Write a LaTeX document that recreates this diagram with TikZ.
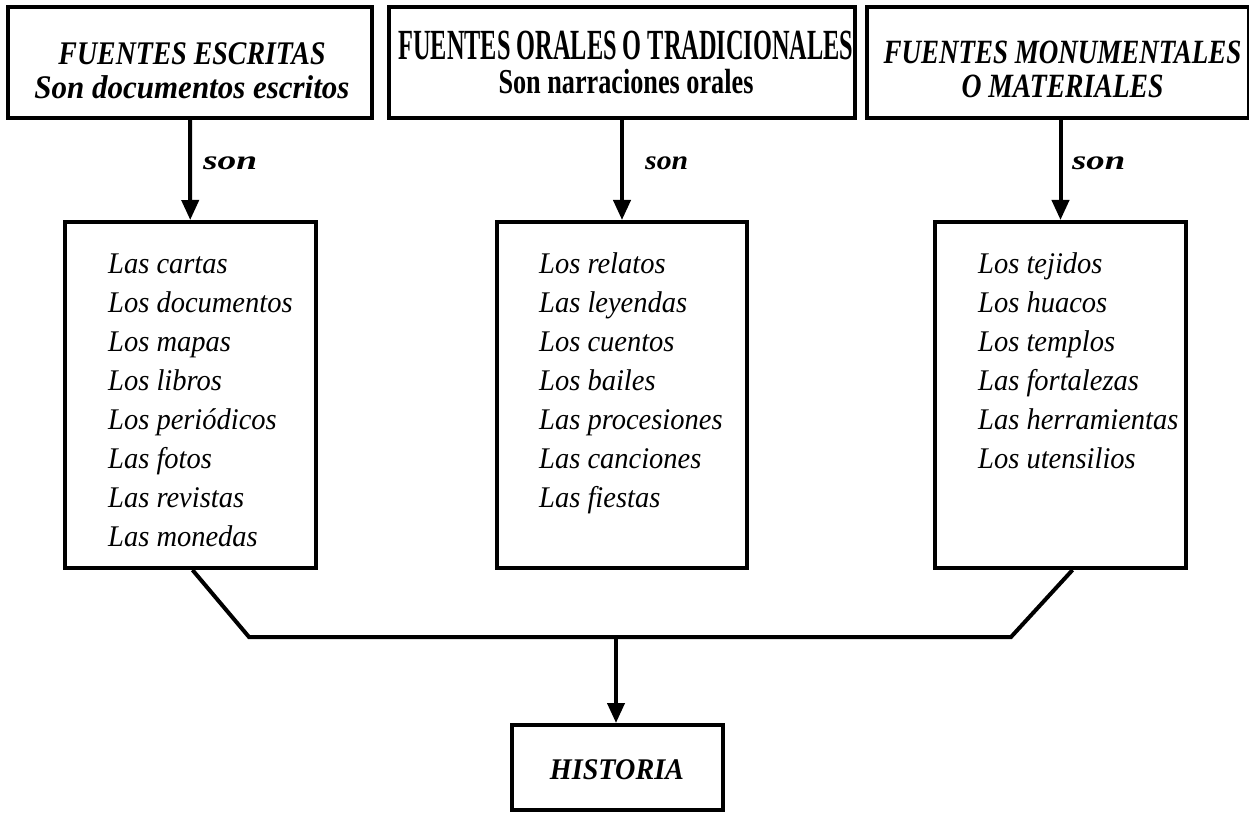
\documentclass[tikz,border=0pt]{standalone}
\usepackage{fontspec}
\setmainfont{Liberation Serif}
\usepackage{graphicx}
\usetikzlibrary{arrows.meta}
\newcommand{\hs}[2]{\resizebox{#1bp}{\height}{#2}}
\newcommand{\itm}[1]{\scalebox{0.95}[1]{#1}}
\begin{document}
\begin{tikzpicture}[x=1bp,y=-1bp,
  box/.style={draw, line width=4bp, rectangle, inner sep=0pt},
  lbl/.style={anchor=base west, inner sep=0pt},
  ttlnode/.style={anchor=north, inner sep=0pt, align=center},
  conn/.style={line width=4bp, -{Triangle[length=20bp,width=17bp]}},
  sonlbl/.style={font=\fontsize{27bp}{30bp}\selectfont\bfseries\itshape},
  item/.style={font=\fontsize{30bp}{36bp}\selectfont\itshape}]
\useasboundingbox (0,0) rectangle (1249,814);
% top boxes
\node[box, minimum width=364bp, minimum height=111bp] (t1) at (190,62.5) {};
\node[box, minimum width=466bp, minimum height=111bp] (t2) at (622,62.5) {};
\node[box, minimum width=382bp, minimum height=111bp] (t3) at (1058,62.5) {};
% list boxes
\node[box, minimum width=251bp, minimum height=346bp] (l1) at (190.5,395) {};
\node[box, minimum width=250bp, minimum height=346bp] (l2) at (622,395) {};
\node[box, minimum width=251bp, minimum height=346bp] (l3) at (1060.5,395) {};
% historia
\node[box, minimum width=211bp, minimum height=85bp] (h) at (617.5,767.5) {};
% titles
\node[ttlnode, font=\fontsize{33bp}{34bp}\selectfont\bfseries\itshape] (t1a) at (192,42)
  {\hs{267}{FUENTES ESCRITAS}\\\hs{315}{Son documentos escritos}};
\node[ttlnode, font=\fontsize{35bp}{34bp}\selectfont\bfseries] (t2a) at (626,31)
  {{\fontsize{43bp}{34bp}\selectfont\hs{455}{FUENTES ORALES O TRADICIONALES}}\\\hs{255}{Son narraciones orales}};
\node[ttlnode, font=\fontsize{34bp}{34bp}\selectfont\bfseries\itshape] (t3a) at (1062.5,41)
  {\hs{358}{FUENTES MONUMENTALES}\\\hs{202}{O MATERIALES}};
% arrows
\draw[conn] (t1) -- (l1);
\draw[conn] (t2) -- (l2);
\draw[conn] (t3.south -| l3.north) -- (l3);
\node[lbl, sonlbl] (s1) at (203,170) {\hs{54}{son}};
\node[lbl, sonlbl] (s2) at (645,170) {\hs{43}{son}};
\node[lbl, sonlbl] (s3) at (1072,170) {\hs{53}{son}};
% list items
\foreach \t [count=\i from 0] in {Las cartas, Los documentos, Los mapas, Los libros, Los periódicos, Las fotos, Las revistas, Las monedas}
  \node[lbl, item] (a\i) at (108, 273+39.1*\i) {\itm{\t}};
\foreach \t [count=\i from 0] in {Los relatos, Las leyendas, Los cuentos, Los bailes, Las procesiones, Las canciones, Las fiestas}
  \node[lbl, item] (b\i) at (539, 273+39.1*\i) {\itm{\t}};
\foreach \t [count=\i from 0] in {Los tejidos, Los huacos, Los templos, Las fortalezas, Las herramientas, Los utensilios}
  \node[lbl, item] (c\i) at (978, 273+39.1*\i) {\itm{\t}};
% joining lines
\coordinate (jl) at (249,637);
\coordinate (jr) at (1011,637);
\coordinate (jm) at (616,637);
\draw[line width=4bp, line join=miter] ([xshift=2bp]l1.south) -- (jl) -- (jr) -- ([xshift=12bp]l3.south);
\draw[conn] (jm) -- (h.north -| jm);
\node[anchor=base, inner sep=0pt, font=\fontsize{30bp}{34bp}\selectfont\bfseries\itshape] (ht) at (617,779) {\hs{134}{HISTORIA}};
\end{tikzpicture}
\end{document}
